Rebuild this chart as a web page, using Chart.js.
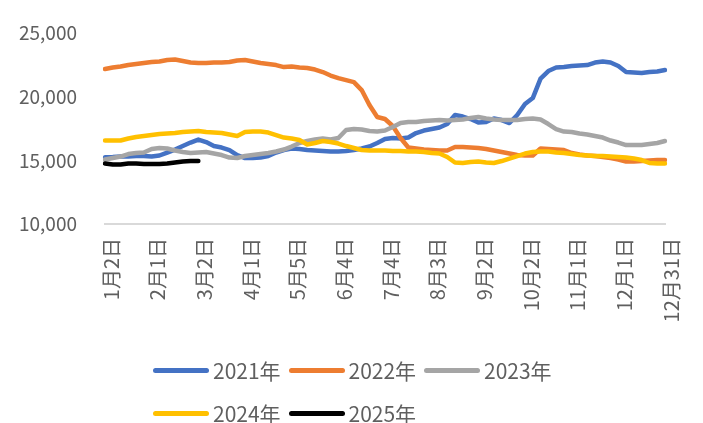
<!DOCTYPE html>
<html>
<head>
<meta charset="utf-8">
<script src="https://cdn.jsdelivr.net/npm/chart.js@4"></script>
<style>
  body { margin: 0; background: #fff; }
  #wrap { position: relative; width: 703px; height: 423px; }
  #legend { position: absolute; left: 153px; top: 356px; font: 21px "Noto Sans CJK SC", sans-serif; color: #5f5f5f; }
  .row { display: flex; height: 28px; line-height: 28px; margin-bottom: 15px; }
  .item { display: flex; align-items: center; width: 135.5px; }
  .mark { width: 56px; height: 5px; border-radius: 3px; margin-right: 4px; }
</style>
</head>
<body>
<div id="wrap">
  <canvas id="chart" width="703" height="423"></canvas>
  <div id="legend"></div>
</div>
<script>
// x tick labels, one every 6 points
const tickLabels = ['1月2日', '2月1日', '3月2日', '4月1日', '5月5日', '6月4日', '7月4日',
    '8月3日', '9月2日', '10月2日', '11月1日', '12月1日', '12月31日'];
const seriesNames = ['2021年', '2022年', '2023年', '2024年', '2025年'];
const colors = ['#4472C4', '#ED7D31', '#A5A5A5', '#FFC000', '#000000'];

const y2021 = [15236, 15260, 15299, 15299, 15338, 15338, 15299, 15378, 15613, 15848,
    16123, 16398, 16633, 16437, 16123, 16005, 15809, 15417, 15181, 15181,
    15220, 15338, 15613, 15809, 15927, 15888, 15809, 15770, 15731, 15691,
    15691, 15731, 15809, 15927, 16084, 16359, 16673, 16751, 16712, 16790,
    17144, 17340, 17458, 17575, 17850, 18557, 18439, 18243, 17968, 18007,
    18282, 18164, 17929, 18557, 19420, 19891, 21422, 22010, 22285, 22325,
    22403, 22442, 22481, 22678, 22756, 22678, 22403, 21932, 21893, 21854,
    21932, 21971, 22089];
const y2022 = [22167, 22285, 22364, 22481, 22560, 22639, 22717, 22756, 22874, 22913,
    22795, 22678, 22639, 22639, 22678, 22678, 22717, 22835, 22874, 22756,
    22639, 22560, 22481, 22325, 22364, 22285, 22246, 22128, 21932, 21657,
    21461, 21304, 21147, 20519, 19342, 18400, 18243, 17693, 16751, 16005,
    15927, 15848, 15809, 15770, 15770, 16045, 16045, 16005, 15966, 15888,
    15770, 15652, 15534, 15417, 15378, 15378, 15927, 15888, 15848, 15809,
    15574, 15456, 15378, 15338, 15260, 15181, 15064, 14907, 14907, 14946,
    14985, 15024, 15024];
const y2023 = [15063, 15181, 15299, 15495, 15574, 15613, 15888, 15966, 15927, 15770,
    15652, 15574, 15613, 15652, 15534, 15417, 15220, 15181, 15338, 15417,
    15495, 15574, 15691, 15848, 16084, 16359, 16516, 16633, 16712, 16633,
    16751, 17379, 17458, 17418, 17301, 17261, 17340, 17615, 17929, 18007,
    18007, 18086, 18125, 18164, 18125, 18164, 18203, 18321, 18400, 18282,
    18203, 18164, 18164, 18164, 18243, 18282, 18203, 17850, 17458, 17261,
    17222, 17104, 17026, 16908, 16790, 16555, 16398, 16202, 16202, 16202,
    16280, 16359, 16516];
const y2024 = [16555, 16555, 16555, 16712, 16830, 16908, 16987, 17065, 17104, 17144,
    17222, 17261, 17301, 17222, 17183, 17144, 17026, 16908, 17222, 17261,
    17261, 17183, 16987, 16790, 16712, 16594, 16241, 16359, 16516, 16437,
    16320, 16123, 15966, 15809, 15770, 15770, 15770, 15731, 15731, 15691,
    15691, 15652, 15574, 15534, 15260, 14828, 14789, 14867, 14907, 14828,
    14789, 14946, 15142, 15338, 15534, 15652, 15691, 15691, 15613, 15574,
    15495, 15417, 15378, 15338, 15338, 15299, 15260, 15220, 15142, 15024,
    14789, 14750, 14750];
const y2025 = [14750, 14671, 14671, 14750, 14750, 14710, 14710, 14710, 14750, 14828,
    14907, 14946, 14946];

const allSeries = [y2021, y2022, y2023, y2024, y2025];
const categories = y2021.map((_, i) => i);

const family = '"Noto Sans CJK SC", sans-serif';

const chart = new Chart(document.getElementById('chart'), {
    type: 'line',
    data: {
        labels: categories,
        datasets: allSeries.map((d, i) => ({
            label: seriesNames[i],
            data: d,
            borderColor: colors[i],
            backgroundColor: colors[i],
            borderWidth: 4.5,
            borderCapStyle: 'round',
            borderJoinStyle: 'round',
            pointRadius: 0,
            tension: 0,
            order: allSeries.length - i
        }))
    },
    options: {
        responsive: false,
        animation: false,
        layout: { padding: { left: 15, right: 30, top: 33, bottom: 79 } },
        plugins: { legend: { display: false }, tooltip: { enabled: false } },
        scales: {
            x: {
                grid: { display: false, drawTicks: false },
                border: { display: true, color: '#D9D9D9', width: 2 },
                ticks: {
                    autoSkip: false, minRotation: 90, maxRotation: 90, padding: 14,
                    labelOffset: 6, color: '#5f5f5f', font: { family, size: 20 },
                    callback: (v, i) => (i % 6 === 0 ? tickLabels[i / 6] : null)
                },
                afterFit: s => { s.height = 120; }
            },
            y: {
                min: 10000, max: 25000,
                grid: { display: false, drawTicks: false },
                border: { display: false },
                ticks: {
                    stepSize: 5000, padding: 28, color: '#5f5f5f', font: { family, size: 19 },
                    callback: v => v.toLocaleString('en-US')
                },
                afterFit: s => {
                    s.width = 90;
                    // tick padding should not push the plot area down
                    s.paddingTop = 12;
                    s.paddingBottom = 12;
                }
            }
        }
    }
});

// legend below the chart: 3 items then 2
const legend = document.getElementById('legend');
[[0, 1, 2], [3, 4]].forEach(idx => {
    const row = document.createElement('div');
    row.className = 'row';
    idx.forEach(i => {
        const ds = chart.data.datasets[i];
        row.innerHTML += `<div class="item"><span class="mark" style="background:${ds.borderColor}"></span>${ds.label}</div>`;
    });
    legend.appendChild(row);
});
</script>
</body>
</html>
